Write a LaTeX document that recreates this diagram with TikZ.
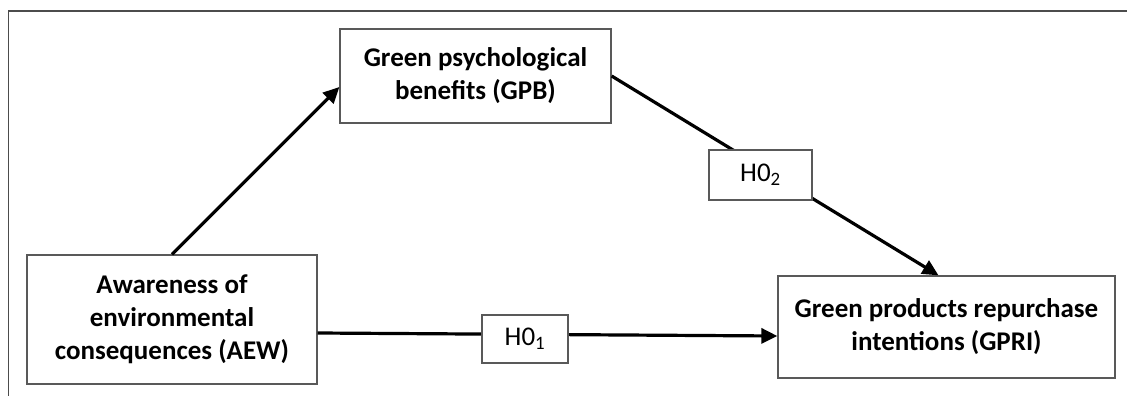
\documentclass[tikz,border=0pt]{standalone}
\usepackage{fontspec}
\setmainfont{Carlito}
\usetikzlibrary{arrows.meta}
\begin{document}
\begin{tikzpicture}[x=1pt,y=-1pt,
  concept/.style={draw=black!65, line width=1.3pt, rectangle, align=center,
    font=\fontsize{27}{33}\selectfont\bfseries, inner sep=0pt},
  hyp/.style={draw=black!65, line width=1.3pt, rectangle, fill=white,
    font=\fontsize{27}{30}\selectfont, inner sep=0pt},
  link/.style={line width=3.2pt, -{Triangle[length=16pt,width=15pt]}},
  frame/.style={draw=black!70, line width=1.8pt}]
  \useasboundingbox (0,0) rectangle (1127,396);

  % open frame: left and top edges only
  \coordinate (fb) at (8.5,396);
  \coordinate (fc) at (8.5,11);
  \coordinate (fr) at (1127,11);
  \draw[frame] (fb) -- (fc) -- (fr);

  % constructs
  \node[concept, minimum width=271pt, minimum height=94pt] (GPB) at (475.5,76)
    {Green psychological\\benefits (GPB)};
  \node[concept, minimum width=290pt, minimum height=129pt] (AEW) at (172,319.5)
    {Awareness of\\environmental\\consequences (AEW)};
  \node[concept, minimum width=337pt, minimum height=102pt] (GPRI) at (946.5,327)
    {Green products repurchase\\intentions (GPRI)};

  % paths
  \draw[link] (AEW.north) -- ([yshift=-11pt]GPB.west);
  \draw[link] (GPB.east) -- ([xshift=-8pt]GPRI.north);
  \draw[link] ([yshift=-13.5pt]AEW.east) -- ([yshift=-9pt]GPRI.west);

  % hypothesis labels sitting on the paths
  \node[hyp, minimum width=86pt, minimum height=48pt] (H01) at (525,339)
    {H0\textsubscript{1}};
  \node[hyp, minimum width=103pt, minimum height=50pt] (H02) at (760.5,175)
    {H0\textsubscript{2}};
\end{tikzpicture}
\end{document}
